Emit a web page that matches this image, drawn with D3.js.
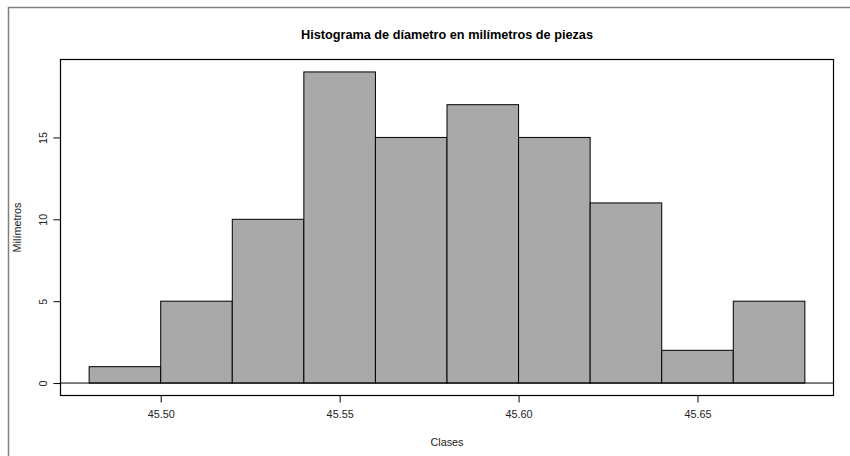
<!DOCTYPE html>
<html>
<head>
<meta charset="utf-8">
<script src="https://cdn.jsdelivr.net/npm/d3@7"></script>
<style>
  html, body { margin: 0; padding: 0; background: #fff; }
  svg { display: block; font-family: "Liberation Sans", Arial, sans-serif; }
</style>
</head>
<body>
<svg id="chart" width="850" height="456"></svg>
<script>
// Histogram bins (lower/upper class edges) and their counts
const binStarts = [45.48, 45.50, 45.52, 45.54, 45.56, 45.58, 45.60, 45.62, 45.64, 45.66];
const binEnds   = [45.50, 45.52, 45.54, 45.56, 45.58, 45.60, 45.62, 45.64, 45.66, 45.68];
const counts    = [1, 5, 10, 19, 15, 17, 15, 11, 2, 5];
const xTicks    = [45.50, 45.55, 45.60, 45.65];
const yTicks    = [0, 5, 10, 15];

const titleText = "Histograma de díametro en milímetros de piezas";
const xLabel = "Clases";
const yLabel = "Milímetros";

const svg = d3.select("#chart");
const labelSize = 10.8;

// Plot region
const plotLeft = 60.5, plotRight = 833.5, plotTop = 59.5, plotBottom = 395.5;

// Axis limits padded by 4% like base graphics
const xMin = d3.min(binStarts), xMax = d3.max(binEnds);
const xPad = (xMax - xMin) * 0.04;
const yMax = d3.max(counts);
const yPad = yMax * 0.04;

const x = d3.scaleLinear().domain([xMin - xPad, xMax + xPad]).range([plotLeft, plotRight]);
const y = d3.scaleLinear().domain([-yPad, yMax + yPad]).range([plotBottom, plotTop]);

// Outer frame (top and left edges)
svg.append("line").attr("x1", 8).attr("x2", 850).attr("y1", 7.5).attr("y2", 7.5)
  .attr("stroke", "#808080").attr("stroke-width", 1.5);
svg.append("line").attr("x1", 8.5).attr("x2", 8.5).attr("y1", 7).attr("y2", 456)
  .attr("stroke", "#808080").attr("stroke-width", 1.5);

// Bars
const bins = counts.map((c, i) => ({ x0: binStarts[i], x1: binEnds[i], n: c }));
svg.append("g").selectAll("rect").data(bins).join("rect")
  .attr("x", d => x(d.x0))
  .attr("width", d => x(d.x1) - x(d.x0))
  .attr("y", d => y(d.n))
  .attr("height", d => y(0) - y(d.n))
  .attr("fill", "#a9a9a9")
  .attr("stroke", "#000")
  .attr("stroke-width", 1);

// Zero line
svg.append("line")
  .attr("x1", plotLeft).attr("x2", plotRight)
  .attr("y1", y(0)).attr("y2", y(0))
  .attr("stroke", "#000").attr("stroke-width", 1);

// Plot box
svg.append("rect")
  .attr("x", plotLeft).attr("y", plotTop)
  .attr("width", plotRight - plotLeft).attr("height", plotBottom - plotTop)
  .attr("fill", "none").attr("stroke", "#000").attr("stroke-width", 1.2);

// X axis
const xAxis = d3.axisBottom(x).tickValues(xTicks).tickFormat(d3.format(".2f"))
  .tickSize(7).tickPadding(8);
const gx = svg.append("g").attr("transform", `translate(0,${plotBottom})`).call(xAxis);
gx.select(".domain").remove();
gx.selectAll("line").attr("stroke", "#000");
gx.selectAll("text").attr("font-size", labelSize).attr("fill", "#222")
  .attr("font-family", "Liberation Sans, Arial, sans-serif");

// Y axis with vertical labels
const yAxis = d3.axisLeft(y).tickValues(yTicks).tickSize(7).tickFormat(d3.format("d"));
const gy = svg.append("g").attr("transform", `translate(${plotLeft},0)`).call(yAxis);
gy.select(".domain").remove();
gy.selectAll("line").attr("stroke", "#000");
gy.selectAll("text")
  .attr("x", null).attr("dy", null)
  .attr("transform", "translate(-18,0) rotate(-90)")
  .attr("text-anchor", "middle")
  .attr("dominant-baseline", "central")
  .attr("font-size", labelSize).attr("fill", "#222")
  .attr("font-family", "Liberation Sans, Arial, sans-serif");

// Title
svg.append("text")
  .attr("x", (plotLeft + plotRight) / 2).attr("y", 35)
  .attr("text-anchor", "middle").attr("dominant-baseline", "central")
  .attr("font-size", 12.7).attr("font-weight", "bold").attr("fill", "#000")
  .text(titleText);

// Axis titles
svg.append("text")
  .attr("x", (plotLeft + plotRight) / 2).attr("y", 441.5)
  .attr("text-anchor", "middle").attr("dominant-baseline", "central")
  .attr("font-size", labelSize).attr("fill", "#222")
  .text(xLabel);

svg.append("text")
  .attr("transform", `translate(17,${(plotTop + plotBottom) / 2}) rotate(-90)`)
  .attr("text-anchor", "middle").attr("dominant-baseline", "central")
  .attr("font-size", labelSize).attr("fill", "#222")
  .text(yLabel);
</script>
</body>
</html>
